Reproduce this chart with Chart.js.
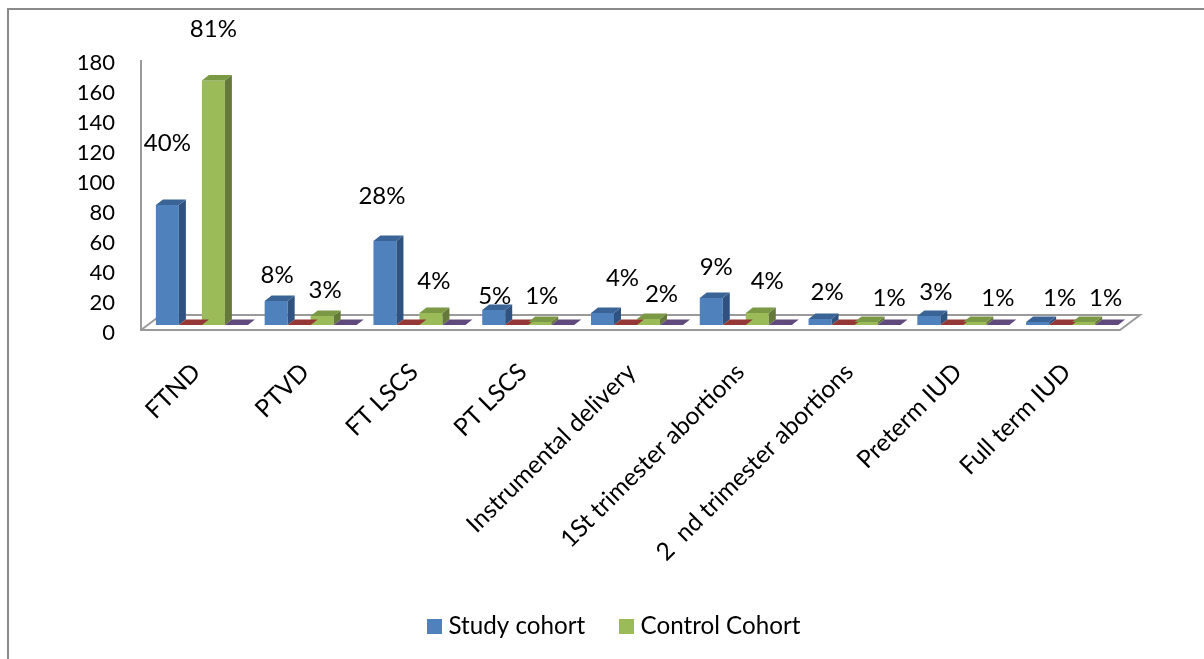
<!DOCTYPE html>
<html>
<head>
<meta charset="utf-8">
<title>Pregnancy outcomes by cohort</title>
<script src="https://cdn.jsdelivr.net/npm/chart.js@4/dist/chart.umd.min.js"></script>
<style>
    html, body { margin: 0; padding: 0; background: #fff; }
    #wrap { position: relative; width: 1204px; height: 659px; overflow: hidden; }
    #wrap::before {
        content: ''; position: absolute; left: 7px; top: 8px; right: 0; bottom: 0;
        border-left: 2px solid #8a8a8a; border-top: 2px solid #8a8a8a;
    }
    canvas { position: absolute; left: 0; top: 0; }
</style>
</head>
<body>
<div id="wrap"><canvas id="grafico" width="1204" height="659"></canvas></div>
<script>
const categorias = ['FTND', 'PTVD', 'FT LSCS', 'PT LSCS', 'Instrumental delivery',
    '1St trimester abortions', '2  nd trimester abortions', 'Preterm IUD', 'Full term IUD'];
const yTicks = [0, 20, 40, 60, 80, 100, 120, 140, 160, 180];

const studyCohort = [80, 16, 56, 10, 8, 18, 4, 6, 2];
const controlCohort = [163, 6, 8, 2, 4, 8, 2, 2, 2];
// the two empty series only show up as flat tiles on the floor
const serie3 = [0, 0, 0, 0, 0, 0, 0, 0, 0];
const serie4 = [0, 0, 0, 0, 0, 0, 0, 0, 0];

const studyPct = ['40%', '8%', '28%', '5%', '4%', '9%', '2%', '3%', '1%'];
const controlPct = ['81%', '3%', '4%', '1%', '2%', '4%', '1%', '1%', '1%'];

// hand placed percentage labels: px above the bar top, px right of the bar centre
const studyLift = [62, 26, 45, 14, 35, 31, 27, 24, 24];
const studyShift = [0, 1, -3, 1, 20, 5, 7, 7, 22];
const controlLift = [51, 26, 32, 26, 25, 32, 24, 24, 24];
const controlShift = [0, 3, 3, 2, 13, 10, 23, 23, 22];

const FONTE = 'Lato, "Open Sans", sans-serif';
const LINHA = '#9a9a9a';
// fake 3D: how far the bar faces go back, and how far the bars sit from the plot area
const PROF_X = 7, PROF_Y = 5.5;
const DESLOC_X = 5.5, DESLOC_Y = -7.5;
// axis lines sit a little up and left of the plot area, next to the tick labels
const EIXO_X = -1, EIXO_Y = -2.5;

const cores = [
    { frente: '#4f81bd', topo: '#3b6496', lado: '#2f5280' },
    { frente: '#953735', topo: '#953735', lado: '#953735' },
    { frente: '#9bbb59', topo: '#7b9845', lado: '#64793a' },
    { frente: '#604a7b', topo: '#604a7b', lado: '#604a7b' }
];

function poligono(ctx, pontos, cor) {
    ctx.fillStyle = cor;
    ctx.beginPath();
    pontos.forEach((p, i) => i ? ctx.lineTo(p[0], p[1]) : ctx.moveTo(p[0], p[1]));
    ctx.closePath();
    ctx.fill();
}

const barras3d = {
    id: 'barras3d',
    beforeDatasetsDraw(chart) {
        const { ctx, chartArea: a } = chart;
        const esq = a.left + EIXO_X, dir = a.right + EIXO_X;
        const topo = a.top + EIXO_Y, chao = a.bottom + EIXO_Y;
        // axis lines, then the floor's depth edges and back edge
        ctx.save();
        ctx.strokeStyle = LINHA;
        ctx.lineWidth = 2;
        ctx.beginPath();
        ctx.moveTo(esq, topo);
        ctx.lineTo(esq, chao);
        ctx.lineTo(dir, chao);
        ctx.lineTo(dir + 20, chao - 15);
        ctx.lineTo(esq + 20, chao - 15);
        ctx.lineTo(esq, chao);
        ctx.stroke();
        ctx.restore();
        ctx.save();
        ctx.translate(DESLOC_X, DESLOC_Y);
    },
    afterDatasetsDraw(chart) {
        const { ctx } = chart;
        chart.data.datasets.forEach((ds, d) => {
            const cor = cores[d];
            chart.getDatasetMeta(d).data.forEach((bar) => {
                const esq = bar.x - bar.width / 2;
                const dir = bar.x + bar.width / 2;
                poligono(ctx, [[dir, bar.y], [dir + PROF_X, bar.y - PROF_Y],
                    [dir + PROF_X, bar.base - PROF_Y], [dir, bar.base]], cor.lado);
                poligono(ctx, [[esq, bar.y], [esq + PROF_X, bar.y - PROF_Y],
                    [dir + PROF_X, bar.y - PROF_Y], [dir, bar.y]], cor.topo);
            });
        });
        // percentage labels
        ctx.fillStyle = '#000';
        ctx.font = '24px ' + FONTE;
        ctx.textAlign = 'center';
        ctx.textBaseline = 'middle';
        [[0, studyPct, studyLift, studyShift], [2, controlPct, controlLift, controlShift]].forEach(([d, txt, lift, shift]) => {
            chart.getDatasetMeta(d).data.forEach((bar, i) => {
                ctx.fillText(txt[i], bar.x + shift[i], bar.y - lift[i]);
            });
        });
        ctx.restore();
    },
    afterDraw(chart) {
        // legend: only the two named series, box and text closer than the built-in one allows
        const { ctx } = chart;
        ctx.save();
        ctx.font = '24.2px ' + FONTE;
        ctx.textAlign = 'left';
        ctx.textBaseline = 'middle';
        [[0, 427], [2, 619]].forEach(([d, x]) => {
            ctx.fillStyle = cores[d].frente;
            ctx.fillRect(x, 619, 15, 15);
            ctx.fillStyle = '#000';
            ctx.fillText(chart.data.datasets[d].label, x + 21.5, 626);
        });
        ctx.restore();
    }
};

new Chart(document.getElementById('grafico').getContext('2d'), {
    type: 'bar',
    data: {
        labels: categorias,
        datasets: [
            { label: 'Study cohort', data: studyCohort, backgroundColor: cores[0].frente },
            { label: 'Serie 3', data: serie3, backgroundColor: cores[1].frente },
            { label: 'Control Cohort', data: controlCohort, backgroundColor: cores[2].frente },
            { label: 'Serie 4', data: serie4, backgroundColor: cores[3].frente }
        ]
    },
    plugins: [barras3d],
    options: {
        responsive: false,
        animation: false,
        clip: false,
        barPercentage: 1,
        categoryPercentage: 0.846,
        layout: { padding: { left: 0, right: 83, top: 62.5, bottom: 0 } },
        plugins: {
            tooltip: { enabled: false },
            legend: { display: false }
        },
        scales: {
            x: {
                grid: { display: false, drawTicks: false },
                border: { display: false },
                ticks: {
                    autoSkip: false,
                    minRotation: 45,
                    maxRotation: 45,
                    padding: 25,
                    color: '#000',
                    font: { family: FONTE, size: 24.5 }
                },
                afterFit(scale) {
                    scale.height = 659 - 332.5;
                }
            },
            y: {
                min: 0,
                max: 180,
                afterBuildTicks(scale) {
                    scale.ticks = yTicks.map((v) => ({ value: v }));
                },
                grid: { display: false, drawTicks: false },
                border: { display: false },
                ticks: {
                    padding: 27,
                    color: '#000',
                    font: { family: FONTE, size: 22 }
                },
                afterFit(scale) {
                    scale.width = 142;
                }
            }
        }
    }
});
</script>
</body>
</html>
